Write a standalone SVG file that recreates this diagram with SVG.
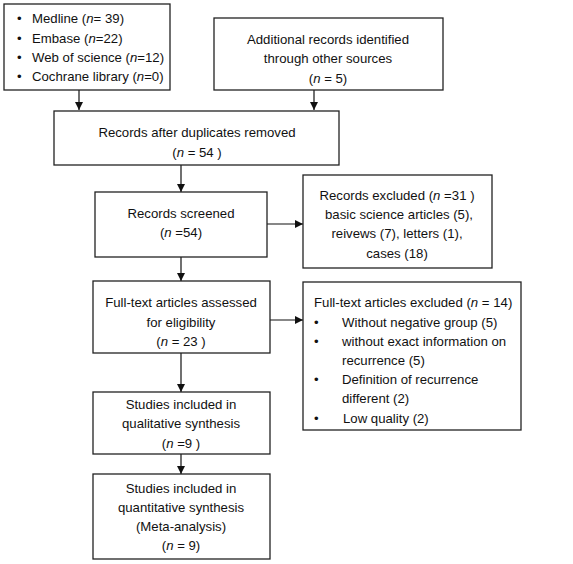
<svg xmlns="http://www.w3.org/2000/svg" width="573" height="564" viewBox="0 0 573 564">
<style>
rect{fill:#fff;stroke:#222;stroke-width:1.3}
text{font-family:"Liberation Sans",Arial,sans-serif;font-size:13.2px;fill:#111}
.c{text-anchor:middle}
.i{font-style:italic}
.e{stroke:#111;stroke-width:1.2;fill:none}
</style>
<defs>
<marker id="ah" viewBox="0 0 10 10" refX="10" refY="5" markerWidth="8" markerHeight="8" markerUnits="userSpaceOnUse" orient="auto">
<path d="M0,0 L10,5 L0,10 z" fill="#111"/>
</marker>
</defs>
<rect width="573" height="564" style="fill:#fff;stroke:none"/>
<g id="connectors">
<line class="e" x1="79" y1="90" x2="79" y2="110" marker-end="url(#ah)"/>
<line class="e" x1="314" y1="90" x2="314" y2="110" marker-end="url(#ah)"/>
<line class="e" x1="181" y1="165" x2="181" y2="192" marker-end="url(#ah)"/>
<line class="e" x1="267" y1="224" x2="303" y2="224" marker-end="url(#ah)"/>
<line class="e" x1="181" y1="257" x2="181" y2="281" marker-end="url(#ah)"/>
<line class="e" x1="270" y1="320" x2="303" y2="320" marker-end="url(#ah)"/>
<line class="e" x1="181" y1="353" x2="181" y2="392" marker-end="url(#ah)"/>
<line class="e" x1="181" y1="454" x2="181" y2="474" marker-end="url(#ah)"/>
</g>
<g id="databases">
<rect x="4" y="4" width="166" height="86"/>
<text x="17" y="23">•</text><text x="32" y="23">Medline (<tspan class="i">n</tspan>= 39)</text>
<text x="17" y="43">•</text><text x="32" y="43">Embase (<tspan class="i">n</tspan>=22)</text>
<text x="17" y="62">•</text><text x="32" y="62">Web of science (<tspan class="i">n</tspan>=12)</text>
<text x="17" y="81">•</text><text x="32" y="81">Cochrane library (<tspan class="i">n</tspan>=0)</text>
</g>
<g id="additional">
<rect x="214" y="18" width="229" height="72"/>
<text class="c" x="328" y="44">Additional records identified</text>
<text class="c" x="328" y="63">through other sources</text>
<text class="c" x="328" y="83">(<tspan class="i">n</tspan> = 5)</text>
</g>
<g id="duplicates">
<rect x="54" y="111" width="285" height="54"/>
<text class="c" x="197" y="137">Records after duplicates removed</text>
<text class="c" x="197" y="157">(<tspan class="i">n</tspan> = 54 )</text>
</g>
<g id="screened">
<rect x="95" y="192" width="172" height="65"/>
<text class="c" x="181" y="218">Records screened</text>
<text class="c" x="181" y="237">(<tspan class="i">n</tspan> =54)</text>
</g>
<g id="excluded1">
<rect x="303" y="175" width="189" height="93"/>
<text class="c" x="397" y="200">Records excluded (<tspan class="i">n</tspan> =31 )</text>
<text class="c" x="399" y="219">basic science articles (5),</text>
<text class="c" x="397" y="238">reivews (7), letters (1),</text>
<text class="c" x="397" y="258">cases (18)</text>
</g>
<g id="fulltext">
<rect x="93" y="281" width="177" height="72"/>
<text class="c" x="181" y="307">Full-text articles assessed</text>
<text class="c" x="181" y="327">for eligibility</text>
<text class="c" x="181" y="346">(<tspan class="i">n</tspan> = 23 )</text>
</g>
<g id="excluded2">
<rect x="303" y="282" width="218" height="148"/>
<text x="314" y="307">Full-text articles excluded (<tspan class="i">n</tspan> = 14)</text>
<text x="314" y="327">•</text><text x="342" y="327">Without negative group (5)</text>
<text x="314" y="346">•</text><text x="342" y="346">without exact information on</text>
<text x="342" y="365">recurrence (5)</text>
<text x="314" y="384">•</text><text x="342" y="384">Definition of recurrence</text>
<text x="342" y="403">different (2)</text>
<text x="314" y="423">•</text><text x="343" y="423">Low quality (2)</text>
</g>
<g id="qualitative">
<rect x="93" y="392" width="177" height="62"/>
<text class="c" x="181" y="409">Studies included in</text>
<text class="c" x="181" y="428">qualitative synthesis</text>
<text class="c" x="181" y="448">(<tspan class="i">n</tspan> =9 )</text>
</g>
<g id="quantitative">
<rect x="93" y="474" width="177" height="85"/>
<text class="c" x="181" y="493">Studies included in</text>
<text class="c" x="181" y="512">quantitative synthesis</text>
<text class="c" x="181" y="531">(Meta-analysis)</text>
<text class="c" x="181" y="550">(<tspan class="i">n</tspan> = 9)</text>
</g>
</svg>
